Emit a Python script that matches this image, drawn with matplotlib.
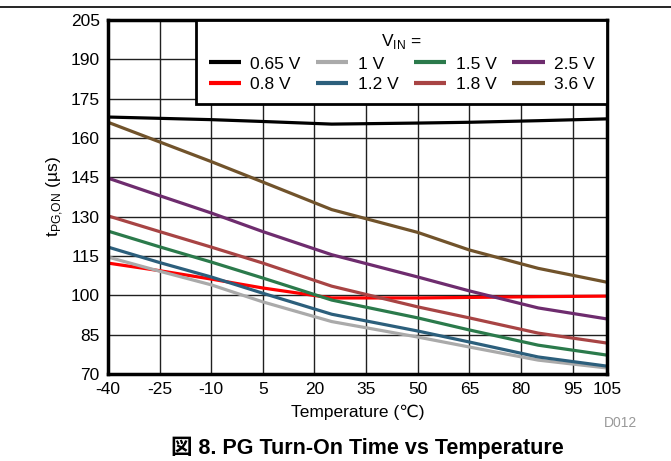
import numpy as np
import matplotlib.pyplot as plt
from matplotlib.lines import Line2D

temps = [-40, -25, -10, 5, 25, 50, 65, 85, 105]

v065 = [168.0, 167.5, 167.0, 166.3, 165.3, 165.7, 166.0, 166.6, 167.3]
v08 = [112.3, 109.4, 106.2, 102.8, 99.0, 99.0, 99.2, 99.5, 99.7]
v10 = [114.6, 109.2, 104.0, 97.5, 90.0, 84.1, 80.3, 75.3, 72.3]
v12 = [118.4, 112.5, 107.0, 100.8, 92.8, 86.4, 82.2, 76.5, 73.0]
v15 = [124.5, 118.5, 112.7, 106.6, 98.2, 91.4, 86.8, 81.0, 77.2]
v18 = [130.3, 124.3, 118.4, 112.3, 103.5, 95.6, 91.4, 85.6, 81.8]
v25 = [144.7, 138.0, 131.4, 124.3, 115.5, 107.0, 101.7, 95.2, 91.0]
v36 = [166.0, 158.5, 151.0, 143.2, 132.7, 124.0, 117.3, 110.3, 105.0]

labels = ['0.65 V', '0.8 V', '1 V', '1.2 V', '1.5 V', '1.8 V', '2.5 V', '3.6 V']
series = [v065, v08, v10, v12, v15, v18, v25, v36]
colors = ['#000000', '#FF0000', '#AAAAAA', '#2C5F7C', '#2B7A4B',
          '#A84444', '#6E2C6E', '#71532B']

xticks = [-40, -25, -10, 5, 20, 35, 50, 65, 80, 95, 105]
yticks = [70, 85, 100, 115, 130, 145, 160, 175, 190, 205]

fam = ['Liberation Sans', 'DejaVu Sans', 'Noto Sans CJK JP']
plt.rcParams['font.family'] = fam
plt.rcParams['axes.unicode_minus'] = False

fig = plt.figure(figsize=(6.71, 4.61), dpi=100)
ax = fig.add_axes([0.161, 0.1887, 0.7436, 0.7679])

for ys, c, lab in zip(series, colors, labels):
    ax.plot(temps, ys, color=c, lw=2.3, label=lab, solid_capstyle='butt')

ax.set_xlim(-40, 105)
ax.set_ylim(70, 205)
ax.set_xticks(xticks)
ax.set_yticks(yticks)
ax.tick_params(length=0, labelsize=12.5, pad=6)
ax.grid(True, color='#202020', lw=1.0)
ax.set_axisbelow(True)
for s in ax.spines.values():
    s.set_linewidth(2.5)

ax.set_xlabel('Temperature (℃)', fontsize=12.5, labelpad=5)
ax.set_ylabel('t$_\\mathregular{PG{,}ON}$ (µs)', fontsize=12.5, labelpad=4)

leg = ax.legend(ncol=4, loc='upper right', bbox_to_anchor=(1.0, 1.0),
                title='V$_\\mathregular{IN}$ =', title_fontsize=12.5,
                fontsize=12.5, frameon=True, fancybox=False, framealpha=1,
                edgecolor='black', borderaxespad=0, handlelength=1.85,
                handletextpad=0.55, columnspacing=0.9, labelspacing=0.3,
                borderpad=0.7)
leg.get_frame().set_linewidth(2.0)
for h in leg.legend_handles:
    h.set_linewidth(3)

fig.add_artist(Line2D([0, 1], [1 - 7.5 / 461, 1 - 7.5 / 461],
                      color='black', lw=1.2))
fig.text(637 / 671, 1 - 423 / 461, 'D012', color='#999999', fontsize=10,
         ha='right', va='center')
fig.text(367 / 671, 1 - 448 / 461, '図 8. PG Turn-On Time vs Temperature',
         fontsize=15.5, fontweight='bold', ha='center', va='center',
         family=['Liberation Sans', 'Noto Sans CJK JP'])

plt.savefig('out.png', dpi=100)
